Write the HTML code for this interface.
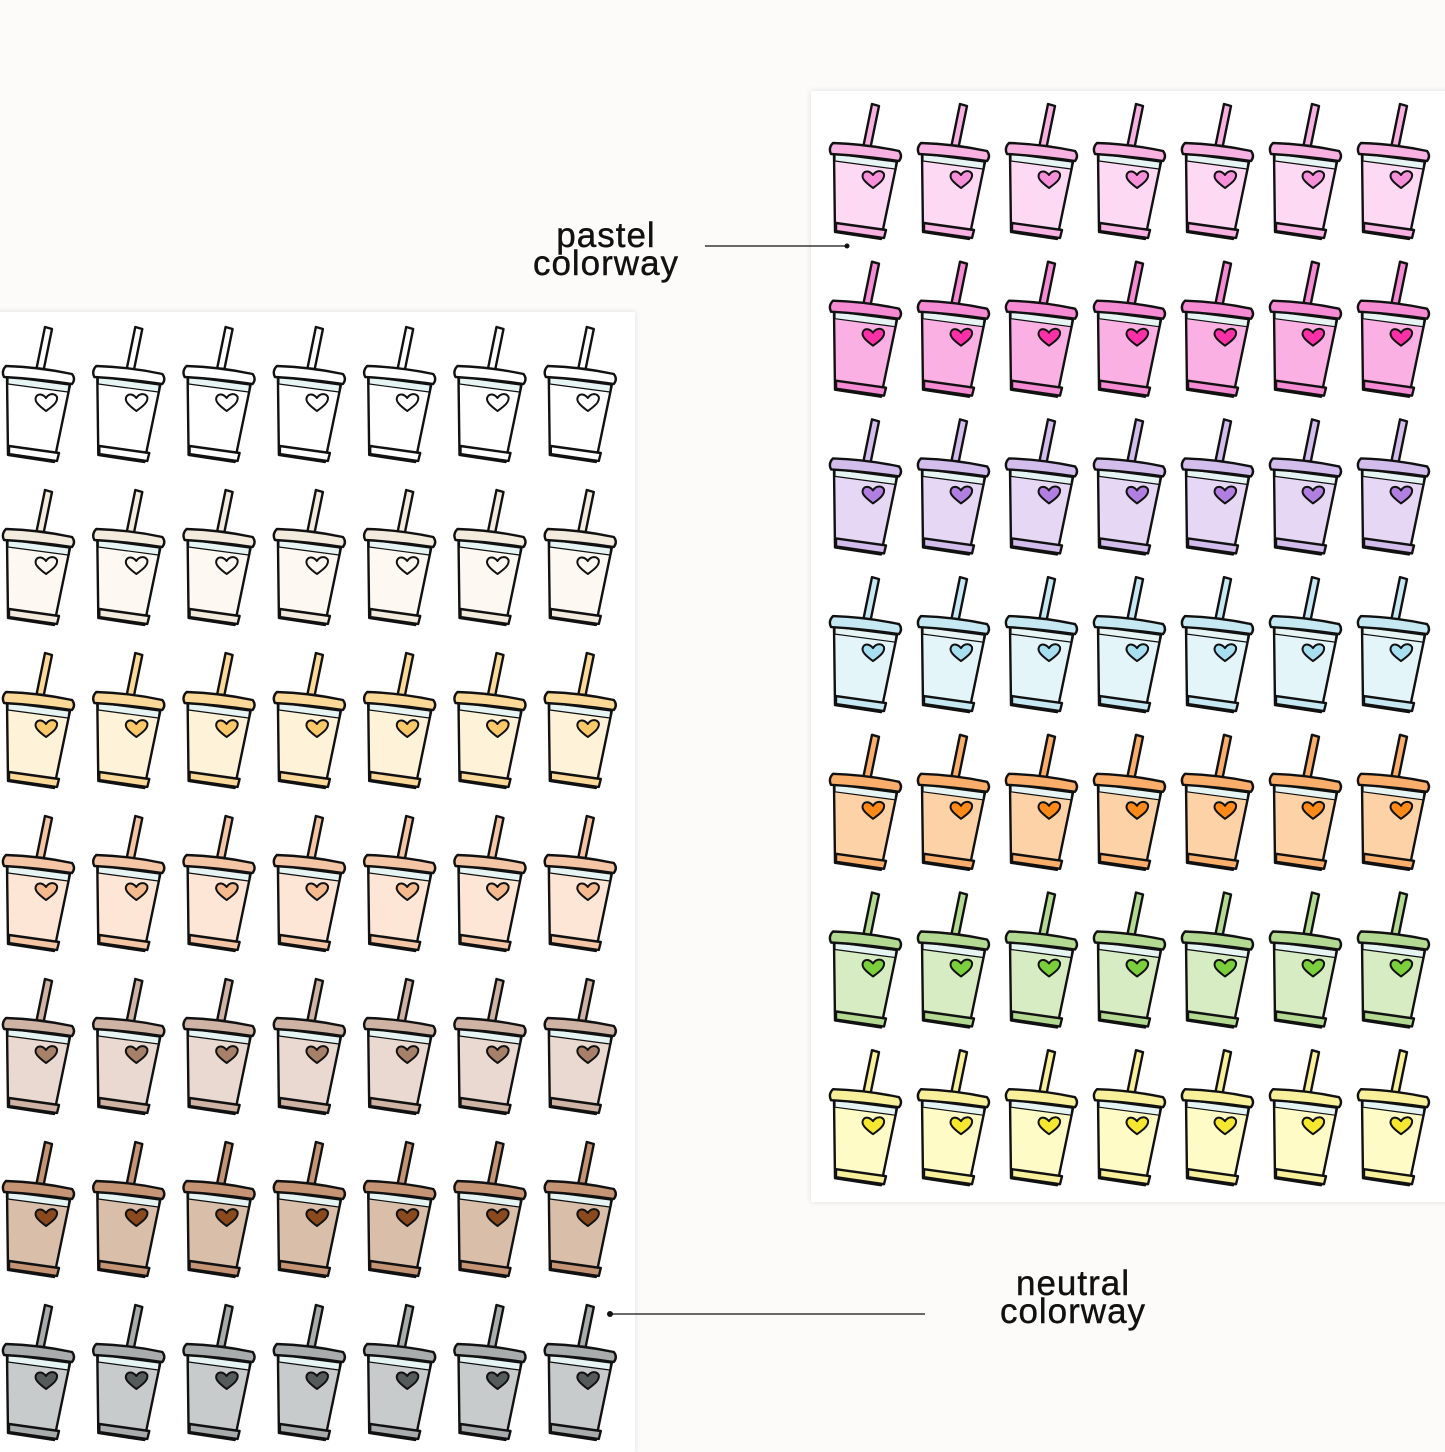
<!DOCTYPE html>
<html><head><meta charset="utf-8"><style>
html,body{margin:0;padding:0;background:#fcfbfa;}
body{width:1445px;height:1445px;position:relative;overflow:hidden;font-family:"Liberation Sans",sans-serif;}
.panel{position:absolute;background:#fff;box-shadow:0 0 6px rgba(0,0,0,0.12);}
.lbl{position:absolute;font-size:35px;line-height:28px;text-align:center;color:#111;letter-spacing:1px;-webkit-text-stroke:0.4px #111;}
</style></head><body>
<div class="panel" style="left:811px;top:91px;width:640px;height:1111px"></div>
<div class="panel" style="left:-10px;top:312px;width:645px;height:1140px"></div>
<svg id="s" width="1445" height="1445" style="position:absolute;left:0;top:0">
<defs>
<g id="cup" stroke="#111" stroke-width="2.4" stroke-linejoin="round">
<path d="M44,2 L51,4 L42,48 L35,46 Z" fill="var(--a)"/>
<path d="M6,52 L69,60 L53,137 L7,130 Z" fill="var(--b)"/>
<path d="M8,121 L58,128 L56,136 L8,129 Z" fill="var(--a)"/>
<path d="M7,52 L68,60 L67,67 L7,59 Z" fill="#e6f4f3" stroke-width="1.2"/>
<path d="M5,41 Q38,42 71,49 Q75,54 71,59 Q37,54 3,52 Q0,46 5,41 Z" fill="var(--a)"/>
<path d="M45,86 C37,80 33,76 35,72 C37,68 42,69 45,73 C48,68 54,68 56,72 C57,77 52,81 45,86 Z" fill="var(--h)" stroke-width="2"/>
</g>
</defs>
<g id="g"></g>
<line x1="705" y1="246" x2="847" y2="246" stroke="#111" stroke-width="1.3"/>
<circle cx="847" cy="246" r="2.5" fill="#111"/>
<line x1="610" y1="1314" x2="925" y2="1314" stroke="#111" stroke-width="1.3"/>
<circle cx="610" cy="1314" r="3" fill="#111"/>
</svg>
<div class="lbl" style="left:496px;top:222px;width:220px">pastel<br>colorway</div>
<div class="lbl" style="left:958px;top:1270px;width:230px">neutral<br>colorway</div>
<script>
var ns="http://www.w3.org/2000/svg",g=document.getElementById('g');
var pastel=[["#fdd9f3","#f7b2e2","#f690d8"],["#fbb0e4","#f58bd3","#ff2fa8"],["#e6d8f4","#d2bdec","#b07fe0"],["#e4f5fa","#c6e8f2","#a8dff0"],["#fdd2a7","#f9ae6c","#ff8a1a"],["#d7ecc2","#b3d993","#7ccf3c"],["#fefbc6","#f8f09a","#f6e830"]];
var neutral=[["#ffffff","#ffffff","#ffffff"],["#fdf9f2","#f3ebdd","#fdf9f2"],["#fef2d8","#fbd999","#fbc96a"],["#fde6d6","#f4c6a6","#f4b98d"],["#ead9d0","#cfb3a5","#a7806a"],["#d9bea9","#c49474","#8a4a1d"],["#c8cbcb","#a8acac","#555a5a"]];
function put(x,y,c){var u=document.createElementNS(ns,'use');u.setAttribute('href','#cup');u.setAttribute('transform','translate('+x+','+y+')');u.style.setProperty('--b',c[0]);u.style.setProperty('--a',c[1]);u.style.setProperty('--h',c[2]);g.appendChild(u);}
for(var r=0;r<7;r++)for(var k=0;k<7;k++){put(828+k*88,102+r*157.7,pastel[r]);put(1+k*90.3,325+r*163,neutral[r]);}
</script>
</body></html>
